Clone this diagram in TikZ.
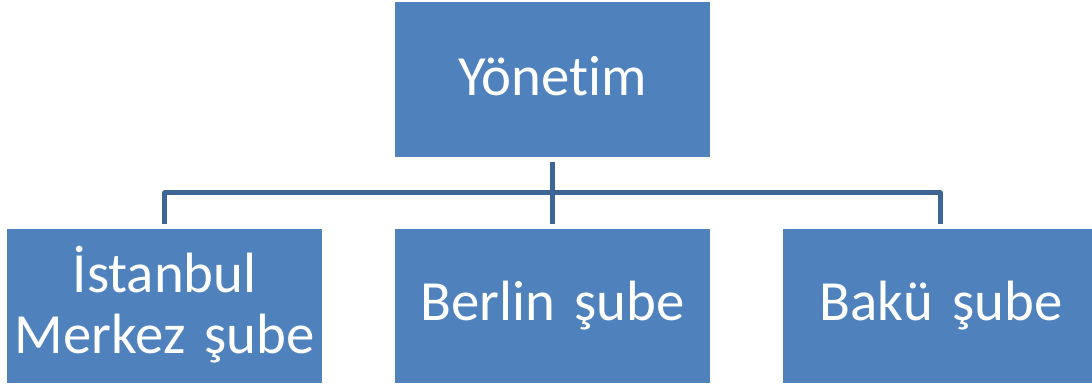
\documentclass[tikz,border=0pt]{standalone}
\usepackage{fontspec}
\setmainfont{Carlito}[Ligatures={NoCommon}]
\usetikzlibrary{calc}
\definecolor{boxblue}{HTML}{4F81BD}
\definecolor{lineblue}{HTML}{3D6696}
\tikzset{
  orgbox/.style={rectangle, fill=boxblue, draw=none, inner sep=0pt, anchor=north west,
    text=white, align=center, font=\fontsize{56.8}{61}\selectfont},
  conn/.style={draw=lineblue, line width=5pt, line join=round}
}
\begin{document}
\begin{tikzpicture}[x=1pt,y=-1pt]
\useasboundingbox (0,0) rectangle (1092,387);
\clip (0,0) rectangle (1092,387);
\node[orgbox, text width=315pt, text height=93pt, text depth=62pt] (top) at (395,2) {Yönetim};
\node[orgbox, text width=315pt, text height=63pt, text depth=91pt] (L) at (7,229) {İstanbul\\Merkez şube};
\node[orgbox, text width=315pt, text height=91pt, text depth=63pt] (M) at (395,229) {Berlin şube};
\node[orgbox, text width=316pt, text height=91pt, text depth=63pt] (R) at (783,229) {Bakü şube};
\coordinate (hub) at (552.5,193);
\draw[conn] ($(top.south)+(0,5)$) -- ($(M.north)+(0,-5)$);
\draw[conn] ($(L.north)+(0,-5)$) |- (hub) -| ($(R.north)+(-1,-5)$);
\end{tikzpicture}
\end{document}
